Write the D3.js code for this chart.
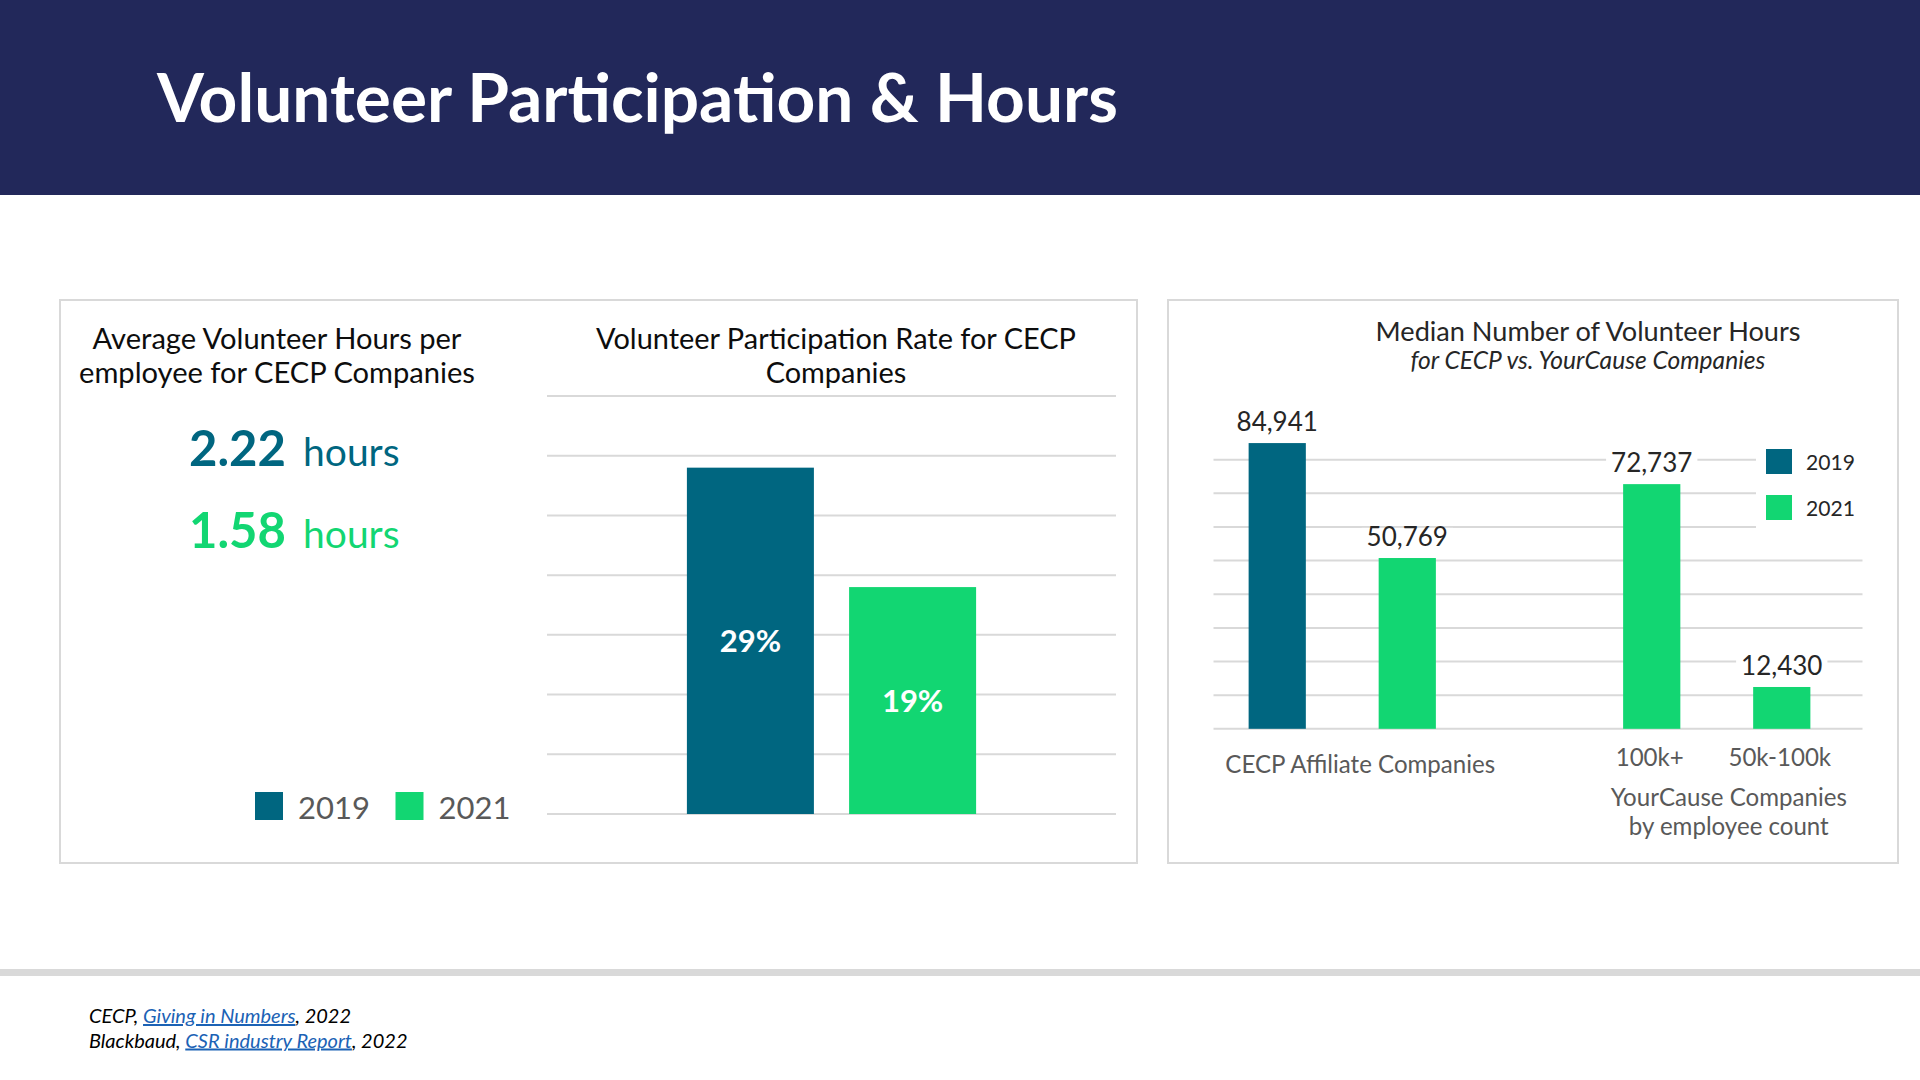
<!DOCTYPE html>
<html>
<head>
<meta charset="utf-8">
<script src="https://cdn.jsdelivr.net/npm/d3@7"></script>
<style>
  html, body { margin: 0; padding: 0; background: #ffffff; }
  svg { display: block; }
</style>
</head>
<body>
<svg id="chart" width="1920" height="1080"></svg>
<script>
// ---------------- DATA ----------------
const pageTitle = "Volunteer Participation & Hours";
const years = ["2019", "2021"];
const yearColors = ["#006680", "#12D672"];

// Average volunteer hours per employee (CECP)
const avgHoursTitle = ["Average Volunteer Hours per", "employee for CECP Companies"];
const avgHours = [2.22, 1.58];

// Volunteer participation rate (CECP)
const participationTitle = ["Volunteer Participation Rate for CECP", "Companies"];
const participationRates = [0.29, 0.19];
const participationTicks = [0, 0.05, 0.10, 0.15, 0.20, 0.25, 0.30, 0.35];

// Median number of volunteer hours
const medianTitle = "Median Number of Volunteer Hours";
const medianSubtitle = "for CECP vs. YourCause Companies";
const medianGroups = ["CECP Affiliate Companies", "YourCause Companies"];
const medianBarGroup = ["CECP Affiliate Companies", "CECP Affiliate Companies", "YourCause Companies", "YourCause Companies"];
const medianBarSlot = ["first", "second", "first", "second"];
const medianBarYear = ["2019", "2021", "2021", "2021"];
const medianValues = [84941, 50769, 72737, 12430];
const medianSubLabels = ["", "", "100k+", "50k-100k"];
const medianTicks = [0, 10000, 20000, 30000, 40000, 50000, 60000, 70000, 80000];
const yourCauseLabel = ["YourCause Companies", "by employee count"];

const sources = [
  { pre: "CECP, ", link: "Giving in Numbers", post: ", 2022" },
  { pre: "Blackbaud, ", link: "CSR industry Report", post: ", 2022" }
];

// ---------------- HELPERS ----------------
const FONT = "Lato, 'Open Sans', sans-serif";
const svg = d3.select("#chart");
const color = d3.scaleOrdinal(years, yearColors);
const grid = "#d9d9d9";

function fit(sel, width) {
  const len = sel.node().getComputedTextLength();
  const fs = parseFloat(sel.attr("font-size"));
  sel.attr("font-size", (fs * width / len).toFixed(2));
  return sel;
}

// ---------------- HEADER ----------------
svg.append("rect").attr("x", 0).attr("y", 0).attr("width", 1920).attr("height", 195).attr("fill", "#22285A");
fit(svg.append("text").attr("x", 157).attr("y", 122)
  .attr("font-family", FONT).attr("font-weight", 700).attr("font-size", 66)
  .attr("fill", "#ffffff").text(pageTitle), 961);

// separator
svg.append("rect").attr("x", 0).attr("y", 969).attr("width", 1920).attr("height", 7).attr("fill", "#d9d9d9");

// panels
svg.append("rect").attr("x", 60).attr("y", 300).attr("width", 1077).attr("height", 563)
  .attr("fill", "none").attr("stroke", grid).attr("stroke-width", 2);
svg.append("rect").attr("x", 1168).attr("y", 300).attr("width", 730).attr("height", 563)
  .attr("fill", "none").attr("stroke", grid).attr("stroke-width", 2);

// ---------------- LEFT: AVERAGE HOURS ----------------
const avgTitleWidths = [369, 396];
avgHoursTitle.forEach((t, i) => {
  fit(svg.append("text").attr("x", 277).attr("y", 349 + i * 34)
    .attr("text-anchor", "middle").attr("font-family", FONT).attr("font-size", 28)
    .attr("fill", "#0d0d0d").text(t), avgTitleWidths[i]);
});

const hoursRow = d3.scaleOrdinal(years, [466, 548]);
avgHours.forEach((v, i) => {
  const yr = years[i];
  svg.append("text").attr("x", 189).attr("y", hoursRow(yr))
    .attr("font-family", FONT).attr("font-weight", 700).attr("font-size", 49)
    .attr("fill", color(yr)).text(d3.format(".2f")(v));
  svg.append("text").attr("x", 303).attr("y", hoursRow(yr))
    .attr("font-family", FONT).attr("font-weight", 400).attr("font-size", 39)
    .attr("fill", color(yr)).text("hours");
});

// left legend
const legX = d3.scaleOrdinal(years, [255, 395.5]);
years.forEach(yr => {
  svg.append("rect").attr("x", legX(yr)).attr("y", 792).attr("width", 28).attr("height", 28).attr("fill", color(yr));
  fit(svg.append("text").attr("x", legX(yr) + 43).attr("y", 819)
    .attr("font-family", FONT).attr("font-size", 31).attr("fill", "#595959").text(yr), 72);
});

// ---------------- MIDDLE: PARTICIPATION RATE ----------------
const pTitle = participationTitle.map((t, i) => svg.append("text").attr("x", 836).attr("y", 349 + i * 34)
  .attr("text-anchor", "middle").attr("font-family", FONT).attr("font-size", 28)
  .attr("fill", "#0d0d0d").text(t));
fit(pTitle[0], 480);
pTitle[1].attr("font-size", pTitle[0].attr("font-size"));

const px = d3.scaleBand().domain(years).range([547, 1116]).paddingInner(0.217).paddingOuter(0.8625);
const py = d3.scaleLinear().domain([0, 0.35]).range([814, 396]);

svg.append("g").selectAll("line").data(participationTicks).join("line")
  .attr("x1", 547).attr("x2", 1116)
  .attr("y1", d => py(d)).attr("y2", d => py(d))
  .attr("stroke", grid).attr("stroke-width", 2);

svg.append("g").selectAll("rect").data(participationRates).join("rect")
  .attr("x", (d, i) => px(years[i])).attr("width", px.bandwidth())
  .attr("y", d => py(d)).attr("height", d => py(0) - py(d))
  .attr("fill", (d, i) => color(years[i]));

svg.append("g").selectAll("text").data(participationRates).join("text")
  .attr("x", (d, i) => px(years[i]) + px.bandwidth() / 2)
  .attr("y", d => (py(d) + py(0)) / 2)
  .attr("dy", "0.36em")
  .attr("text-anchor", "middle").attr("font-family", FONT).attr("font-weight", 700)
  .attr("font-size", 31).attr("fill", "#ffffff")
  .text(d => d3.format(".0%")(d));

// ---------------- RIGHT: MEDIAN HOURS ----------------
fit(svg.append("text").attr("x", 1588).attr("y", 341)
  .attr("text-anchor", "middle").attr("font-family", FONT).attr("font-size", 27)
  .attr("fill", "#262626").text(medianTitle), 425);
fit(svg.append("text").attr("x", 1588).attr("y", 369)
  .attr("text-anchor", "middle").attr("font-family", FONT).attr("font-style", "italic").attr("font-size", 23)
  .attr("fill", "#262626").text(medianSubtitle), 355);

const gx0 = d3.scaleBand().domain(medianGroups).range([1155, 1904]).padding(0);
const gx1 = d3.scaleBand().domain(["first", "second"]).range([0, gx0.bandwidth()]).paddingInner(0.56).paddingOuter(0.72);
const my = d3.scaleLinear().domain([0, 80000]).range([728.8, 459.7]);
const gridL = 1213.5, gridR = 1862.5;

svg.append("g").selectAll("line").data(medianTicks).join("line")
  .attr("x1", gridL).attr("x2", gridR)
  .attr("y1", d => my(d)).attr("y2", d => my(d))
  .attr("stroke", grid).attr("stroke-width", 2);

const barX = i => gx0(medianBarGroup[i]) + gx1(medianBarSlot[i]);

svg.append("g").selectAll("rect").data(medianValues).join("rect")
  .attr("x", (d, i) => barX(i)).attr("width", gx1.bandwidth())
  .attr("y", d => my(d)).attr("height", d => my(0) - my(d))
  .attr("fill", (d, i) => color(medianBarYear[i]));

// value labels with white knock-out background
const labelFs = 26;
const labelG = svg.append("g");
medianValues.forEach((v, i) => {
  const g = labelG.append("g");
  const cx = barX(i) + gx1.bandwidth() / 2;
  const base = my(v) - 12;
  const t = g.append("text").attr("x", cx).attr("y", base)
    .attr("text-anchor", "middle").attr("font-family", FONT).attr("font-size", labelFs)
    .attr("fill", "#262626").text(d3.format(",")(v));
  const w = t.node().getComputedTextLength();
  g.insert("rect", "text").attr("x", cx - w / 2 - 5).attr("y", base - 0.7 * labelFs)
    .attr("width", w + 10).attr("height", 0.7 * labelFs + 2).attr("fill", "#ffffff");
});

// legend (with white background that interrupts the gridlines)
svg.append("rect").attr("x", 1756).attr("y", 440).attr("width", 120).attr("height", 94).attr("fill", "#ffffff");
const rLegY = d3.scaleOrdinal(years, [449, 495]);
years.forEach(yr => {
  svg.append("rect").attr("x", 1766).attr("y", rLegY(yr)).attr("width", 26).attr("height", 25).attr("fill", color(yr));
  fit(svg.append("text").attr("x", 1806).attr("y", rLegY(yr) + 21)
    .attr("font-family", FONT).attr("font-size", 23).attr("fill", "#262626").text(yr), 49);
});

// category labels
const catFs = 24;
const cecp = svg.append("text").attr("x", gx0(medianGroups[0]) + gx0.bandwidth() / 2 + 18).attr("y", 773)
  .attr("text-anchor", "middle").attr("font-family", FONT).attr("font-size", catFs)
  .attr("fill", "#595959").text(medianGroups[0]);
fit(cecp, 270);
svg.append("g").selectAll("text").data(medianSubLabels).join("text")
  .filter(d => d !== "")
  .attr("x", (d, i) => barX(i + 2) + gx1.bandwidth() / 2 - 2)
  .attr("y", 766)
  .attr("text-anchor", "middle").attr("font-family", FONT).attr("font-size", cecp.attr("font-size"))
  .attr("fill", "#595959").text(d => d);
yourCauseLabel.forEach((t, i) => {
  svg.append("text").attr("x", gx0(medianGroups[1]) + gx0.bandwidth() / 2 + 12).attr("y", 806 + i * 29)
    .attr("text-anchor", "middle").attr("font-family", FONT).attr("font-size", cecp.attr("font-size"))
    .attr("fill", "#595959").text(t);
});

// ---------------- SOURCES ----------------
sources.forEach((s, i) => {
  const t = svg.append("text").attr("x", 89).attr("y", 1023 + i * 24.5)
    .attr("font-family", FONT).attr("font-style", "italic")
    .attr("font-size", 20).attr("fill", "#000000");
  t.append("tspan").text(s.pre);
  t.append("tspan").attr("fill", "#1B62B5").attr("text-decoration", "underline").text(s.link);
  t.append("tspan").text(s.post);
});
</script>
</body>
</html>
